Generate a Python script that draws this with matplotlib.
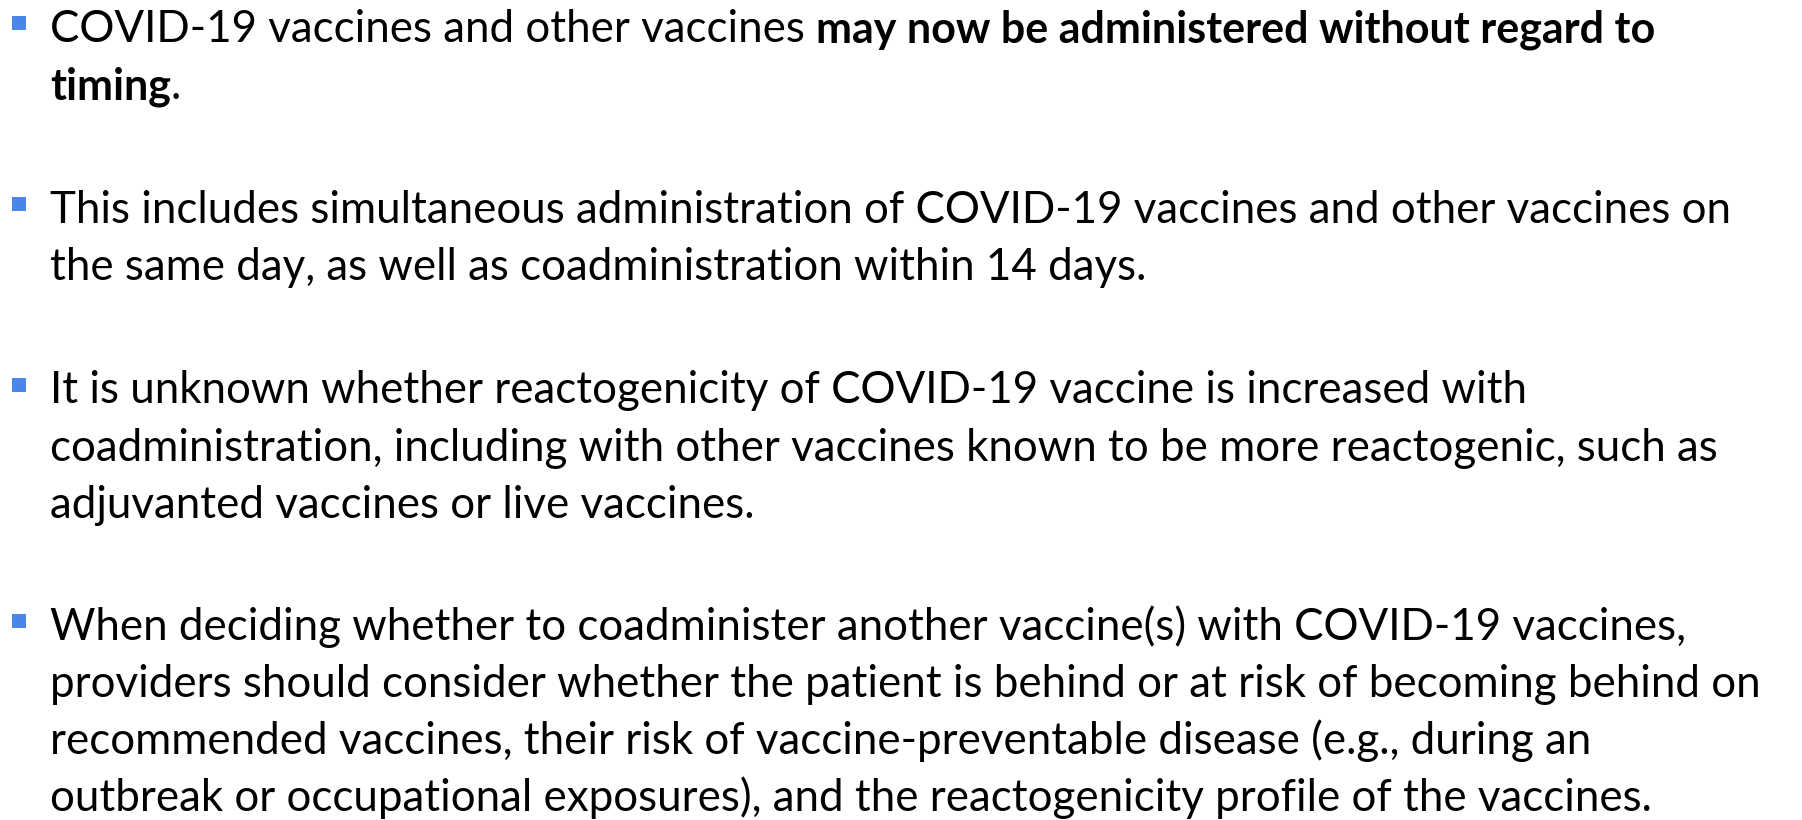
import matplotlib
matplotlib.use('Agg')
import matplotlib.pyplot as plt
from matplotlib.patches import Rectangle

W = 1802
H = 820

# each bullet: list of lines, each line a list of (text, bold) pieces
bullet1 = [[('COVID-19 vaccines and other vaccines', False), ('may now be administered without regard to', True)],
           [('timing', True), ('.', False)]]
bullet2 = [[('This includes simultaneous administration of COVID-19 vaccines and other vaccines on', False)],
           [('the same day, as well as coadministration within 14 days.', False)]]
bullet3 = [[('It is unknown whether reactogenicity of COVID-19 vaccine is increased with', False)],
           [('coadministration, including with other vaccines known to be more reactogenic, such as', False)],
           [('adjuvanted vaccines or live vaccines.', False)]]
bullet4 = [[('When deciding whether to coadminister another vaccine(s) with COVID-19 vaccines,', False)],
           [('providers should consider whether the patient is behind or at risk of becoming behind on', False)],
           [('recommended vaccines, their risk of vaccine-preventable disease (e.g., during an', False)],
           [('outbreak or occupational exposures), and the reactogenicity profile of the vaccines.', False)]]
bullets = [bullet1, bullet2, bullet3, bullet4]

# baseline of first line of each bullet (pixels from top)
first_baseline = [42, 223, 403, 639]
line_step = 57

font = 'Lato'
fsize = 31.6
bold_size = 31.0
text_x = 50
bullet_color = '#4a86e8'

fig = plt.figure(figsize=(W / 100, H / 100 + 0.009), dpi=100)
fig.patch.set_facecolor('white')
renderer = fig.canvas.get_renderer()


def px(x, y):
    return x / W, 1 - y / H


# width of one space
t1 = fig.text(0, 0, 'x x', family=font, fontsize=fsize)
t2 = fig.text(0, 0, 'xx', family=font, fontsize=fsize)
space_w = t1.get_window_extent(renderer).width - t2.get_window_extent(renderer).width
t1.remove()
t2.remove()

for b, lines in enumerate(bullets):
    base = first_baseline[b]
    # bullet square
    fig.add_artist(Rectangle(px(12, base - 11), 14 / W, 14 / H,
                             transform=fig.transFigure, facecolor=bullet_color,
                             edgecolor='none'))
    for i, pieces in enumerate(lines):
        y = base + i * line_step
        x = text_x
        for j, (txt, bold) in enumerate(pieces):
            t = fig.text(*px(x, y), txt, family=font,
                         fontsize=bold_size if bold else fsize,
                         fontweight='bold' if bold else 'normal',
                         color='black', va='baseline', ha='left')
            ext = t.get_window_extent(renderer)
            x = x + ext.width
            if j + 1 < len(pieces) and pieces[j + 1][0] != '.':
                x = x + space_w

fig.savefig('out.png', dpi=100, facecolor='white')
